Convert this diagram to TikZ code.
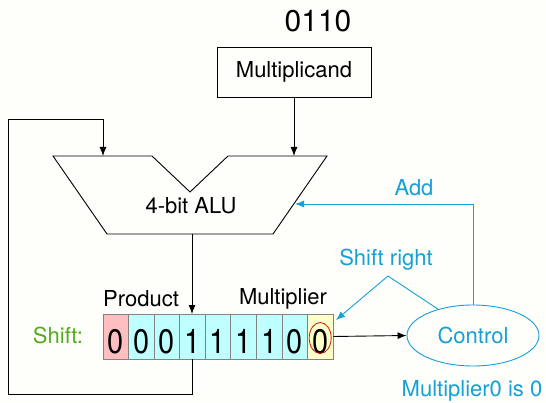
\documentclass[tikz,border=0pt]{standalone}
\usepackage{fontspec}
\setmainfont{TeX Gyre Heros}
\usepackage{graphicx}
\usetikzlibrary{arrows.meta,shapes.geometric}
\definecolor{bg}{RGB}{254,254,251}
\definecolor{ctlblue}{RGB}{22,160,214}
\definecolor{shiftgreen}{RGB}{82,172,26}
\definecolor{cellpink}{RGB}{255,190,192}
\definecolor{cellcyan}{RGB}{190,255,255}
\definecolor{cellyellow}{RGB}{255,255,200}
\definecolor{cellborder}{RGB}{130,130,130}
\definecolor{ringred}{RGB}{200,20,30}
\begin{document}
\begin{tikzpicture}[x=1pt,y=-1pt,
  txt/.style={font=\fontsize{22}{22}\selectfont, inner sep=0pt},
  wire/.style={line width=0.9pt},
  arr/.style={wire,-{Latex[length=9pt,width=7pt]}},
  barr/.style={line width=0.9pt, draw=ctlblue, -{Latex[length=9pt,width=7pt]}},
  cell/.style={draw=cellborder, line width=0.8pt, minimum width=25.56pt, minimum height=45pt, inner sep=0pt, text height=33pt, text depth=0pt, font=\fontsize{34}{34}\selectfont},
]
\path[fill=bg] (0,0) rectangle (546,403);
\useasboundingbox (0,0) rectangle (546,403);

% title and multiplicand
\node[txt, font=\fontsize{30}{30}\selectfont] (title) at (318,21) {0110};
\node[txt, draw, wire, minimum width=154pt, minimum height=50pt] (mc) at (294,72) {Multiplicand};

% ALU
\coordinate (a1) at (53,156);
\coordinate (a2) at (152,156);
\coordinate (a3) at (190,192);
\coordinate (a4) at (228,156);
\coordinate (a5) at (327,156);
\coordinate (a6) at (273,234);
\coordinate (a7) at (107,234);
\draw[wire, line join=miter] (a1) -- (a2) -- (a3) -- (a4) -- (a5) -- (a6) -- (a7) -- cycle;
\node[txt] (alu) at (191,206) {4-bit ALU};
\coordinate (aluR) at (294,156);
\coordinate (aluL) at (103,156);
\coordinate (aluOut) at (192,234);
\coordinate (aluAdd) at (295,204);

\draw[arr] (mc.south) -- (aluR);

% register
\foreach \i/\d/\c in {1/0/cellpink,2/0/cellcyan,3/0/cellcyan,4/1/cellcyan,5/1/cellcyan,6/1/cellcyan,7/1/cellcyan,8/0/cellcyan,9/0/cellyellow}
  \node[cell, fill=\c] (c\i) at ({103+25.56*(\i-0.5)},336.5) {\scalebox{0.85}[1]{\d}};
\node[draw=ringred, line width=0.8pt, ellipse, minimum width=22pt, minimum height=31pt, inner sep=0pt] (ring) at (320.2,338) {};

\coordinate (regTop) at (192,314);
\coordinate (regBot) at (192,359);
\draw[arr] (aluOut) -- (regTop);
\draw[arr] (regBot) -- (192,394) -- (8,394) -- (8,119) -- (103,119) -- (aluL);

\node[txt] (prod) at (141,299) {Product};
\node[txt] (mplr) at (283,299) {Multiplier};
\node[txt, text=shiftgreen] (shift) at (58,335) {Shift:};

% control
\node[draw=ctlblue, line width=0.9pt, ellipse, minimum width=132pt, minimum height=61pt, inner sep=0pt, txt, text=ctlblue] (ctl) at (473,335.5) {Control};
\draw[arr] (c9.east) -- (ctl.west);
\draw[barr] (ctl.north) -- (473,204) -- (aluAdd);
\coordinate (peak) at (388,276);
\coordinate (srTip) at (336,320);
\draw[barr] (ctl.143) -- (peak) -- (srTip);
\node[txt, text=ctlblue] (add) at (414,188) {Add};
\node[txt, text=ctlblue] (sr) at (386,260) {Shift right};
\node[txt, text=ctlblue] (m0) at (472,391) {Multiplier0 is 0};
\end{tikzpicture}
\end{document}
